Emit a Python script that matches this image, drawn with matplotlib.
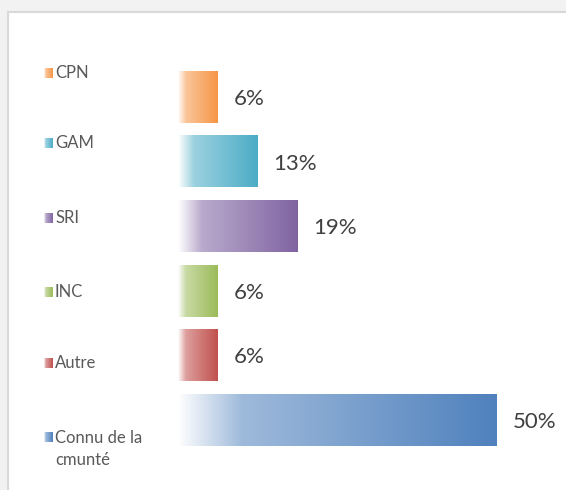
import numpy as np
import matplotlib.pyplot as plt
from matplotlib.colors import LinearSegmentedColormap, to_rgb
from matplotlib.patches import Rectangle

categories = ["CPN", "GAM", "SRI", "INC", "Autre", "Connu de la\ncmunté"]
values = [6.25, 12.5, 18.75, 6.25, 6.25, 50.0]
value_labels = ["6%", "13%", "19%", "6%", "6%", "50%"]
colors = ["#F79646", "#4BACC6", "#8064A2", "#9BBB59", "#C0504D", "#4F81BD"]

W, H = 566, 490
plt.rcParams['font.family'] = ['Lato', 'DejaVu Sans']


def gradient_cmap(c):
    rgb = np.array(to_rgb(c))
    light = 1 - 0.55 * (1 - rgb)
    return LinearSegmentedColormap.from_list("g", [(0, (1, 1, 1)), (0.2, light), (1, rgb)])


fig = plt.figure(figsize=(W / 100, H / 100), dpi=100)
fig.patch.set_facecolor("#f2f2f2")
fig.patches.append(Rectangle((8 / W, -0.1), 1, (H - 12) / H + 0.1, transform=fig.transFigure,
                             facecolor="white", edgecolor="#d9d9d9", linewidth=1.5, zorder=-5))

# main bar axes (pixel layout)
left_px, right_px, top_px, bot_px = 178, 566, 60, 470
ax = fig.add_axes([left_px / W, 1 - bot_px / H, (right_px - left_px) / W, (bot_px - top_px) / H])
ax.set_facecolor("none")
ax.axis("off")

grad = np.linspace(0, 1, 256).reshape(1, -1)
bh = 0.8
for i, (v, c, lab) in enumerate(zip(values, colors, value_labels)):
    ax.imshow(grad, cmap=gradient_cmap(c), extent=[0, v, i + bh / 2, i - bh / 2],
              aspect="auto", interpolation="bilinear", zorder=2)
    ax.text(v + 2.5, i + 0.03, lab, va="center", ha="left", fontsize=16, color="#404040")
ax.set_xlim(0, 50 * (right_px - left_px) / 319)
ax.set_ylim(5 + (bot_px - 420) / 64.6, -(97 - top_px) / 64.6)

# legend-like category labels
lab_y = [73, 143, 218, 292, 363, 449]
ov = fig.add_axes([0, 0, 1, 1])
ov.set_facecolor("none")
ov.axis("off")
for cat, c, y in zip(categories, colors, lab_y):
    my = y if "\n" not in cat else y - 12
    ov.imshow(grad, cmap=gradient_cmap(c), extent=[44, 53, my + 5, my - 5],
              aspect="auto", interpolation="bilinear")
    ov.text(55, y, cat, va="center", ha="left", fontsize=12, color="#595959", linespacing=1.5)
ov.set_xlim(0, W)
ov.set_ylim(H, 0)

fig.savefig("out.png", dpi=100, facecolor=fig.get_facecolor())
